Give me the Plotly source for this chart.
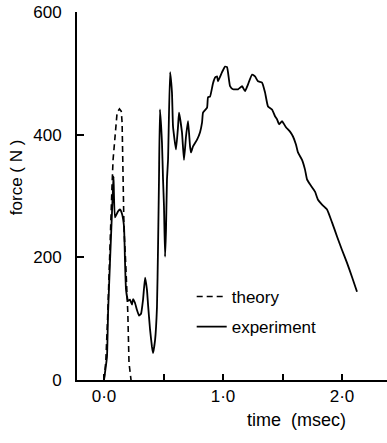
import plotly.graph_objects as go

# Theory curve (dashed)
theory_t = [0.0, 0.015, 0.03, 0.045, 0.059, 0.067, 0.076, 0.095, 0.11, 0.13, 0.145, 0.152,
            0.16, 0.165, 0.168, 0.18, 0.19, 0.2, 0.21, 0.227]
theory_f = [0, 30, 100, 200, 283, 315, 359, 405, 436, 442, 438, 420,
            355, 283, 245, 200, 163, 110, 28, 0]

# Experiment curve (solid)
exp_t = [0.0, 0.025, 0.034, 0.05, 0.067, 0.076, 0.08, 0.092, 0.118, 0.134, 0.151, 0.168,
         0.176, 0.185, 0.202, 0.218, 0.235, 0.244, 0.26, 0.277, 0.294, 0.311, 0.328, 0.345,
         0.361, 0.37, 0.387, 0.403, 0.412, 0.429, 0.445, 0.454, 0.462, 0.47, 0.487, 0.496,
         0.504, 0.513, 0.521, 0.529, 0.538, 0.555, 0.571, 0.58, 0.605, 0.622, 0.63, 0.655,
         0.672, 0.689, 0.706, 0.723, 0.731, 0.748, 0.782, 0.807, 0.824, 0.832, 0.866, 0.874,
         0.891, 0.916, 0.933, 0.95, 0.958, 0.992, 1.017, 1.034, 1.059, 1.084, 1.126, 1.16,
         1.185, 1.21, 1.244, 1.269, 1.294, 1.328, 1.353, 1.378, 1.412, 1.437, 1.454, 1.471,
         1.496, 1.504, 1.529, 1.563, 1.588, 1.613, 1.63, 1.664, 1.689, 1.706, 1.731, 1.773,
         1.798, 1.832, 1.874, 1.916, 1.958, 2.0, 2.042, 2.084, 2.126]
exp_f = [0, 38, 109, 191, 273, 315, 332, 265, 275, 278, 271, 250,
         196, 147, 129, 131, 123, 132, 126, 114, 105, 108, 131, 167,
         147, 123, 82, 54, 44, 65, 119, 217, 327, 441, 387, 327,
         283, 201, 245, 327, 359, 502, 469, 413, 376, 413, 436, 404,
         359, 397, 422, 381, 371, 381, 392, 404, 420, 436, 444, 461,
         462, 484, 493, 495, 487, 502, 511, 510, 479, 474, 474, 479,
         471, 482, 498, 495, 487, 485, 469, 446, 441, 430, 425, 417,
         422, 420, 412, 405, 397, 384, 371, 359, 343, 327, 319, 307,
         294, 286, 278, 257, 234, 212, 191, 168, 144]

x_tickvals = [0, 0.5, 1.0, 1.5, 2.0]
x_ticktext = ["0·0", "", "1·0", "", "2·0"]
y_tickvals = [0, 200, 400, 600]
y_ticktext = ["0", "200", "400", "600"]

FONT = "Liberation Sans"

fig = go.Figure()
fig.add_trace(go.Scatter(x=theory_t, y=theory_f, mode="lines", name="theory",
                         showlegend=True,
                         line=dict(color="black", width=1.6, dash="6px,4px"),
                         legend="legend"))
fig.add_trace(go.Scatter(x=exp_t, y=exp_f, mode="lines", name="experiment",
                         showlegend=True,
                         line=dict(color="black", width=1.8, shape="spline", smoothing=0.4),
                         legend="legend2"))

legend_common = dict(xanchor="left", yanchor="middle", bgcolor="rgba(0,0,0,0)",
                     borderwidth=0, font=dict(family=FONT, size=17, color="black"))

fig.update_layout(
    width=387, height=443,
    showlegend=True,
    margin=dict(l=77, r=0, t=12, b=63),
    plot_bgcolor="white", paper_bgcolor="white",
    font=dict(family=FONT, size=16, color="black"),
    legend=dict(x=0.37, y=0.2255, visible=True, **legend_common),
    legend2=dict(x=0.37, y=0.144, visible=True, **legend_common),
    xaxis=dict(range=[-0.227, 2.378], showgrid=False, zeroline=False,
               showline=True, linecolor="black", linewidth=2,
               ticks="inside", ticklen=6, tickwidth=1.5, tickcolor="black",
               tickvals=x_tickvals, ticktext=x_ticktext,
               tickfont=dict(family=FONT, size=17, color="black")),
    yaxis=dict(range=[0, 600], showgrid=False, zeroline=False,
               showline=True, linecolor="black", linewidth=2,
               ticks="inside", ticklen=7, tickwidth=1.5, tickcolor="black",
               tickvals=y_tickvals, ticktext=y_ticktext,
               ticklabelstandoff=10,
               tickfont=dict(family=FONT, size=17, color="black")),
    annotations=[
        dict(text="force ( N )", xref="paper", yref="paper", x=-0.195, y=0.55,
             xanchor="center", yanchor="middle", textangle=-90, showarrow=False,
             font=dict(family=FONT, size=17, color="black")),
        dict(text="time  (msec)", xref="paper", yref="paper", x=0.707, y=-0.11,
             xanchor="center", yanchor="middle", showarrow=False,
             font=dict(family=FONT, size=18, color="black")),
    ],
)

fig.write_html("out.html")
